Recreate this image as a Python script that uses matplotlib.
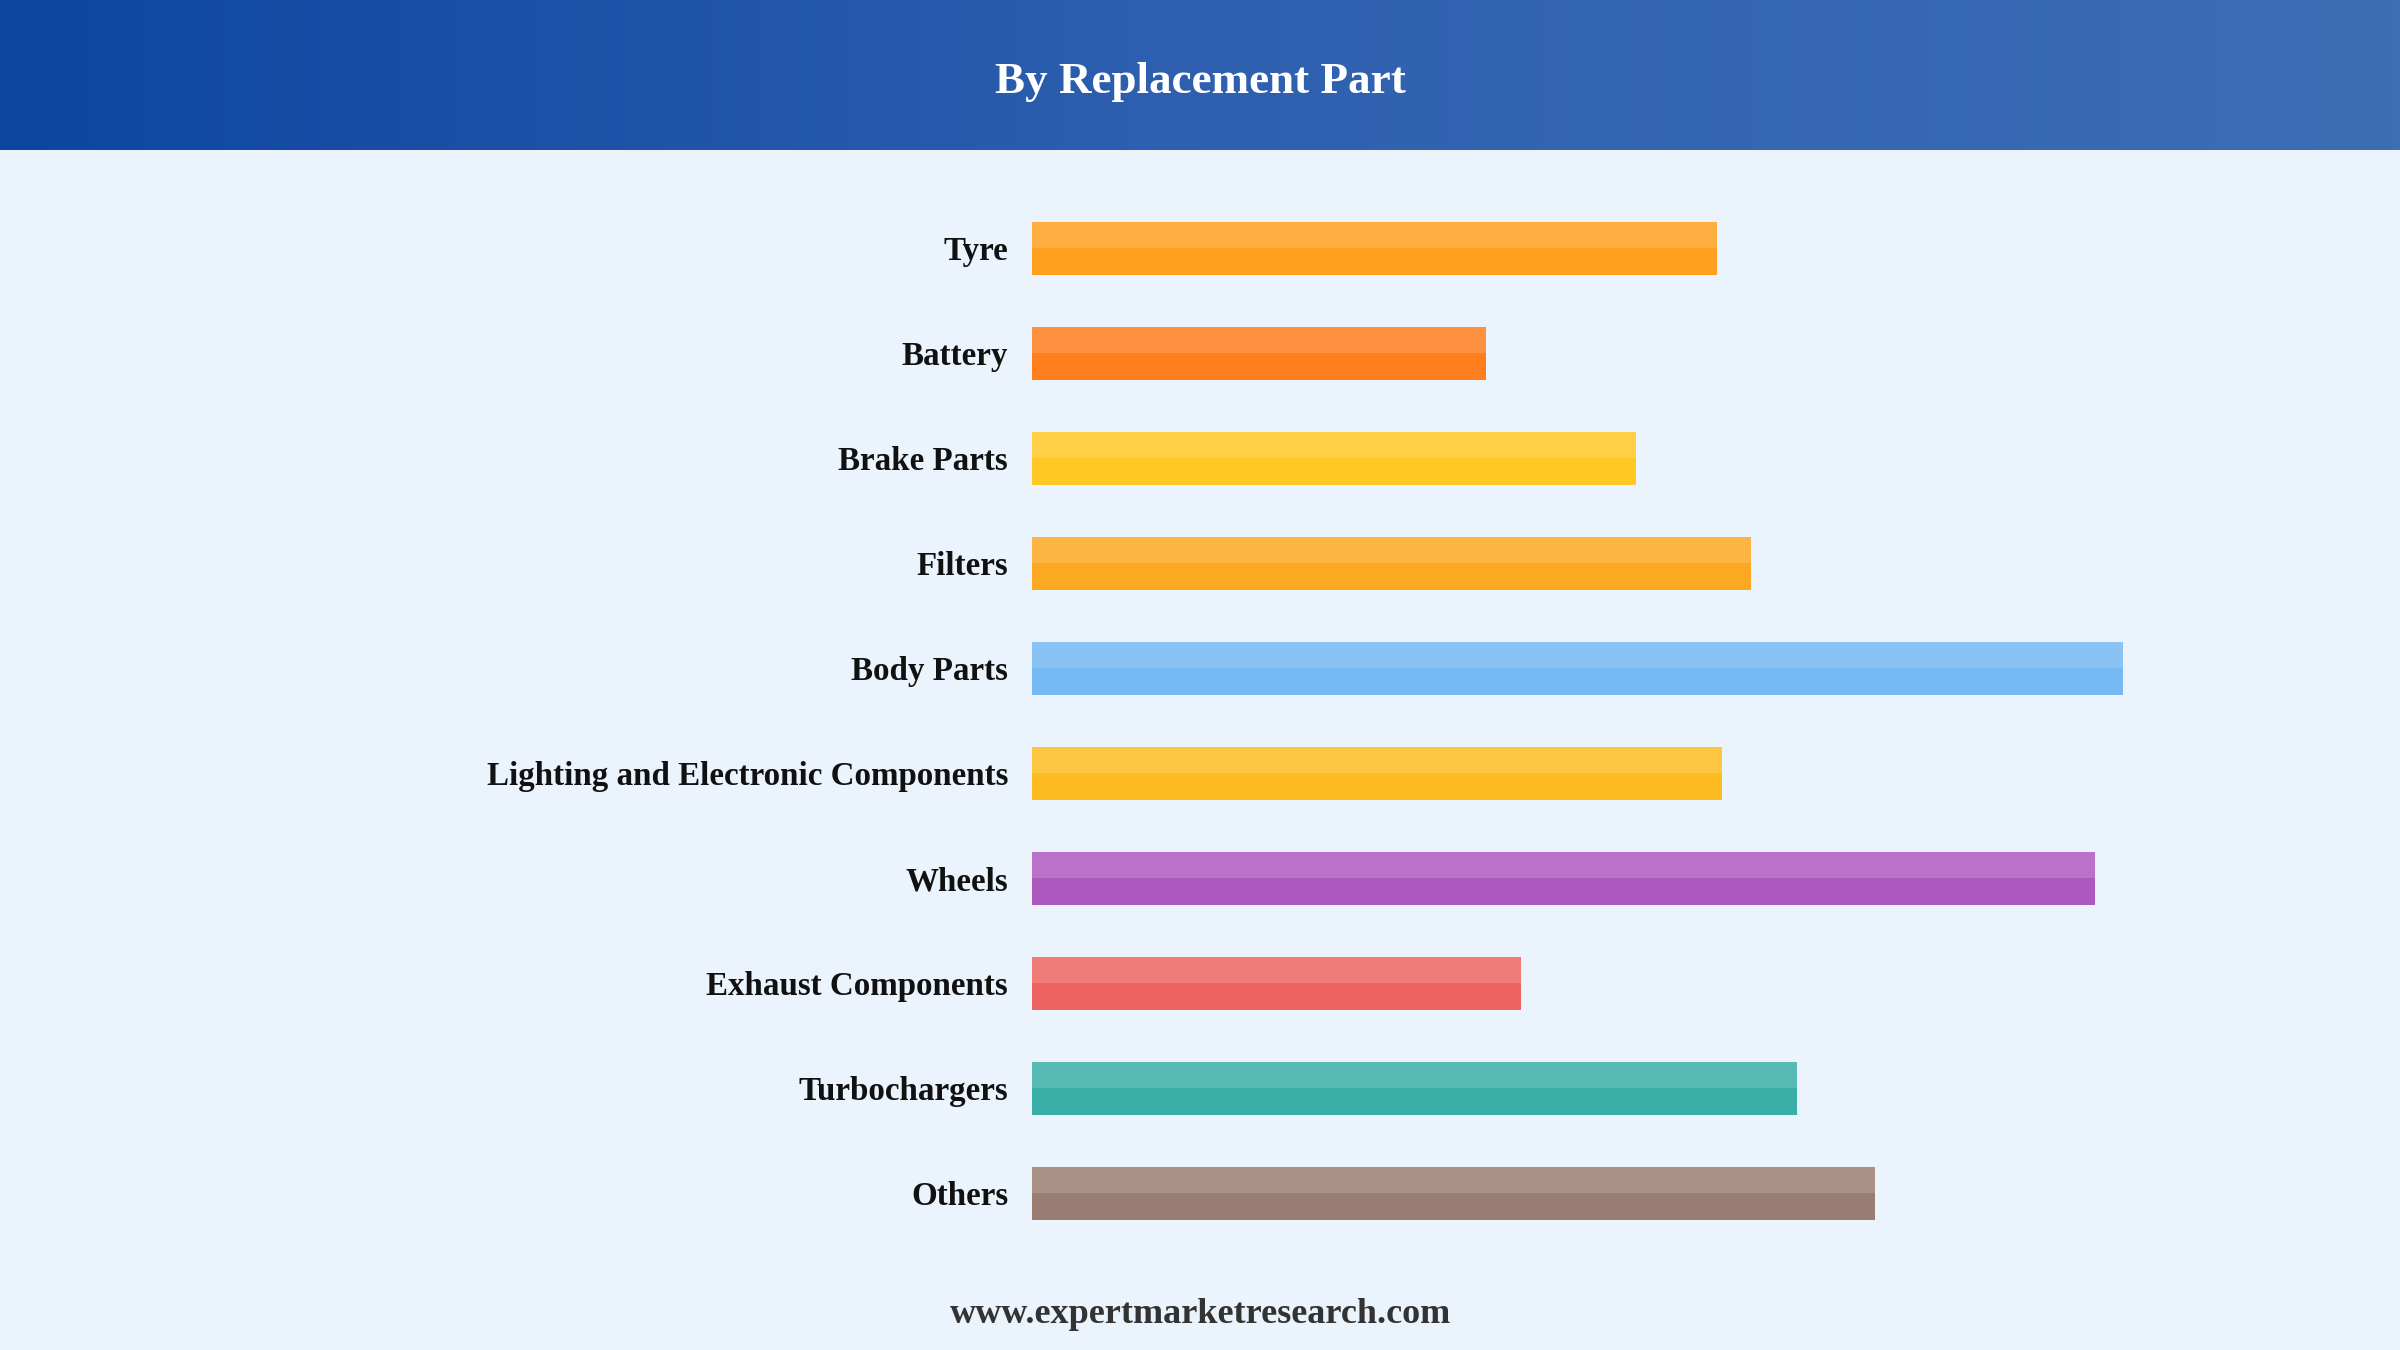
import numpy as np
import matplotlib
matplotlib.use("Agg")
import matplotlib.pyplot as plt
from matplotlib.colors import LinearSegmentedColormap, to_rgb

categories = ["Tyre", "Battery", "Brake Parts", "Filters", "Body Parts",
              "Lighting and Electronic Components", "Wheels",
              "Exhaust Components", "Turbochargers", "Others"]
values = [448, 297, 395, 470, 713, 451, 695, 320, 500, 551]
colors = ["#FFA01F", "#FF7F1F", "#FFC824", "#FCA821", "#74B9F4",
          "#FDBC22", "#AD58BF", "#EF6461", "#3AAFA5", "#9A7D72"]

plt.rcParams["font.family"] = ["Liberation Serif", "DejaVu Serif"]

fig = plt.figure(figsize=(24, 13.5), dpi=100)
fig.patch.set_facecolor("#EBF3FC")

# header band with gradient
hax = fig.add_axes([0, 1 - 98 / 882, 1, 98 / 882])
cmap = LinearSegmentedColormap.from_list("hdr", ["#0D45A0", "#2F60B0", "#3D6DB5"])
hax.imshow(np.linspace(0, 1, 256)[None, :], aspect="auto", cmap=cmap,
           extent=[0, 1, 0, 1])
hax.set_axis_off()
hax.text(0.5, 0.45, "By Replacement Part", color="white", fontsize=32.5,
         fontweight="bold", ha="center", va="center")

ax = fig.add_axes([674 / 1568, 1 - 814 / 882, 800 / 1568, 686 / 882])
ax.set_facecolor("none")
y = np.arange(len(categories))
h = 0.51
ax.barh(y, values, height=h, color=colors)
light = [tuple(c + (1 - c) * 0.15 for c in to_rgb(col)) for col in colors]
ax.barh(y - h / 4, values, height=h / 2, color=light)
ax.set_xlim(0, 800)
ax.set_ylim(len(categories) - 0.5, -0.5)
ax.set_yticks(y)
ax.set_yticklabels(categories, fontsize=23.8, fontweight="bold", color="#111111")
ax.tick_params(axis="y", length=0, pad=17)
ax.set_xticks([])
for s in ax.spines.values():
    s.set_visible(False)

fig.text(0.5, 1 - 859 / 882, "www.expertmarketresearch.com", fontsize=26,
         fontweight="bold", color="#333333", ha="center", va="center")

fig.savefig("out.png", dpi=100, facecolor=fig.get_facecolor())
